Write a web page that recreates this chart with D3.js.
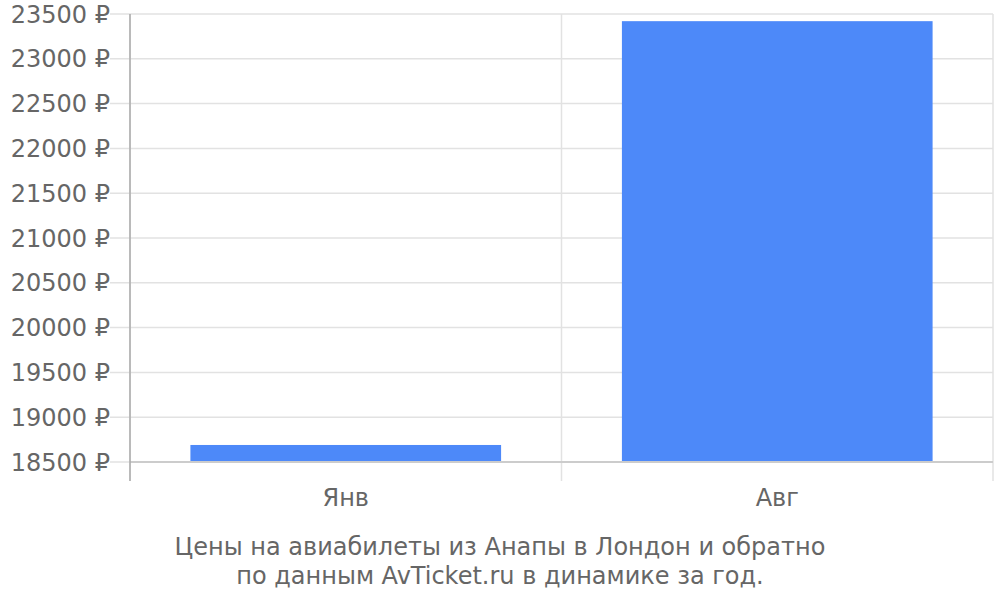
<!DOCTYPE html>
<html>
<head>
<meta charset="UTF-8">
<script src="https://d3js.org/d3.v7.min.js"></script>
<style>
  body { margin: 0; background: #fff; }
  text { font-family: "DejaVu Sans", sans-serif; fill: #666; }
</style>
</head>
<body>
<svg id="chart" width="1000" height="600"></svg>
<script>
// data
const months = ["Янв", "Авг"];
const prices = [18690, 23420];
const yTicks = [18500, 19000, 19500, 20000, 20500, 21000, 21500, 22000, 22500, 23000, 23500];
const titleLines = ["Цены на авиабилеты из Анапы в Лондон и обратно",
                    "по данным AvTicket.ru в динамике за год."];

// plot box
const plotLeft = 130, plotRight = 993, plotTop = 14, plotBottom = 462;

const svg = d3.select("#chart");

const x = d3.scaleBand()
    .domain(months)
    .range([plotLeft, plotRight])
    .paddingInner(0)
    .paddingOuter(0);

const y = d3.scaleLinear()
    .domain([18500, 23500])
    .range([plotBottom, plotTop]);

// horizontal grid + little ticks on the left
svg.append("g")
    .selectAll("line")
    .data(yTicks)
    .join("line")
    .attr("x1", plotLeft - 20)
    .attr("x2", plotRight)
    .attr("y1", d => y(d))
    .attr("y2", d => y(d))
    .attr("stroke", "#e2e2e2")
    .attr("stroke-width", 1.5);

// vertical grid at category edges
const edges = months.map(m => x(m)).concat([plotRight]);
svg.append("g")
    .selectAll("line")
    .data(edges)
    .join("line")
    .attr("x1", d => d)
    .attr("x2", d => d)
    .attr("y1", plotTop)
    .attr("y2", plotBottom + 19)
    .attr("stroke", "#e2e2e2")
    .attr("stroke-width", 1.5);

// y labels
svg.append("g")
    .selectAll("text")
    .data(yTicks)
    .join("text")
    .attr("x", plotLeft - 20)
    .attr("y", d => y(d))
    .attr("dy", "0.36em")
    .attr("text-anchor", "end")
    .style("font-size", "24px")
    .text(d => d + " ₽");

// bars
const bw = x.bandwidth();
svg.append("g")
    .selectAll("rect")
    .data(months)
    .join("rect")
    .attr("x", d => x(d) + bw * 0.14)
    .attr("width", bw * 0.72)
    .attr("y", (d, i) => y(prices[i]))
    .attr("height", (d, i) => y(18500) - y(prices[i]))
    .attr("fill", "#4d89f9");

// axis lines
svg.append("line")
    .attr("x1", plotLeft).attr("x2", plotRight)
    .attr("y1", plotBottom).attr("y2", plotBottom)
    .attr("stroke", "#cccccc").attr("stroke-width", 2);
svg.append("line")
    .attr("x1", plotLeft).attr("x2", plotLeft)
    .attr("y1", plotTop).attr("y2", plotBottom + 19)
    .attr("stroke", "#aaaaaa").attr("stroke-width", 1.5);

// x labels
svg.append("g")
    .selectAll("text")
    .data(months)
    .join("text")
    .attr("x", d => x(d) + bw / 2)
    .attr("y", 506)
    .attr("text-anchor", "middle")
    .style("font-size", "24px")
    .text(d => d);

// caption under the chart
svg.append("g")
    .selectAll("text")
    .data(titleLines)
    .join("text")
    .attr("x", 500)
    .attr("y", (d, i) => 555 + i * 29)
    .attr("text-anchor", "middle")
    .style("font-size", "24px")
    .text(d => d);
</script>
</body>
</html>
